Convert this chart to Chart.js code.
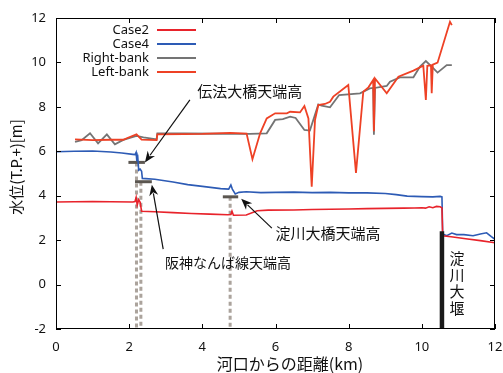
<!DOCTYPE html>
<html>
<head>
<meta charset="utf-8">
<script src="https://cdn.jsdelivr.net/npm/chart.js@4.4.1/dist/chart.umd.min.js"></script>
<style>
  html, body { margin: 0; padding: 0; background: #fff; }
  #wrap { width: 503px; height: 373px; }
</style>
</head>
<body>
<div id="wrap"><canvas id="chart"></canvas></div>
<script>
// 距離(km) と 水位(m)
const case2Km = [0, 0.5, 1.0, 1.5, 2.1, 2.16, 2.19, 2.22, 2.26, 2.3, 2.34, 2.7, 3.2, 3.7, 4.2, 4.7, 4.78, 4.81, 4.85, 5.2, 5.5, 5.8, 6.5, 7.0, 7.5, 8.0, 8.5, 9.0, 9.5, 9.8, 10.0, 10.1, 10.2, 10.3, 10.4, 10.5, 10.55, 10.57, 10.8, 11.2, 11.6, 12];
const case2Wl = [3.72, 3.73, 3.74, 3.73, 3.72, 3.74, 3.92, 3.58, 3.82, 3.7, 3.3, 3.28, 3.24, 3.2, 3.17, 3.14, 3.15, 3.3, 3.12, 3.13, 3.32, 3.35, 3.36, 3.38, 3.39, 3.4, 3.42, 3.43, 3.44, 3.45, 3.46, 3.44, 3.5, 3.46, 3.52, 3.5, 3.45, 2.2, 2.15, 2.06, 1.98, 1.88];

const case4Km = [0, 0.5, 1.0, 1.5, 1.8, 2.1, 2.16, 2.19, 2.21, 2.23, 2.26, 2.3, 2.34, 2.36, 2.7, 3.2, 3.6, 4.0, 4.5, 4.72, 4.78, 4.82, 4.9, 5.0, 5.2, 5.6, 6.0, 6.5, 7.0, 7.5, 8.0, 8.5, 9.0, 9.3, 9.6, 10.0, 10.3, 10.5, 10.55, 10.57, 10.68, 10.82, 10.95, 11.15, 11.4, 11.6, 11.77, 11.9, 12];
const case4Wl = [5.98, 6.0, 6.01, 5.97, 5.92, 5.86, 5.85, 5.95, 5.55, 5.85, 5.15, 5.2, 5.1, 4.78, 4.74, 4.62, 4.5, 4.42, 4.32, 4.3, 4.48, 4.3, 4.08, 4.15, 4.18, 4.14, 4.15, 4.16, 4.14, 4.15, 4.13, 4.13, 4.1, 4.05, 3.98, 3.96, 3.95, 3.97, 3.95, 2.28, 2.2, 2.32, 2.25, 2.25, 2.2, 2.28, 2.33, 2.16, 2.04];

const rightKm = [0.52, 0.7, 0.93, 1.15, 1.39, 1.61, 1.84, 2.2, 2.39, 2.75, 2.77, 3.5, 4.5, 5.3, 5.76, 5.99, 6.2, 6.4, 6.55, 6.79, 6.94, 7.17, 7.26, 7.49, 7.74, 8.31, 8.58, 8.67, 8.69, 8.72, 9.04, 9.13, 9.4, 9.77, 9.95, 10.11, 10.27, 10.43, 10.68, 10.82];
const rightWl = [6.42, 6.5, 6.81, 6.36, 6.76, 6.31, 6.51, 6.69, 6.63, 6.54, 6.81, 6.8, 6.79, 6.78, 6.81, 7.41, 7.45, 7.56, 7.5, 6.96, 6.93, 8.11, 8.05, 7.98, 8.53, 8.61, 8.83, 8.85, 6.75, 8.85, 8.94, 9.13, 9.33, 9.33, 9.81, 10.06, 9.81, 9.54, 9.88, 9.88];

const leftKm = [0.52, 1.0, 1.5, 1.84, 1.95, 2.2, 2.34, 2.75, 2.77, 3.5, 4.0, 4.76, 5.21, 5.37, 5.58, 5.76, 5.99, 6.31, 6.40, 6.67, 6.79, 6.90, 6.99, 7.08, 7.17, 7.35, 7.49, 7.58, 7.99, 8.20, 8.40, 8.54, 8.67, 8.69, 8.72, 9.04, 9.36, 9.77, 10.04, 10.11, 10.15, 10.25, 10.27, 10.30, 10.43, 10.77, 10.82];
const leftWl = [6.54, 6.5, 6.52, 6.52, 6.6, 6.76, 6.52, 6.5, 6.76, 6.77, 6.78, 6.83, 6.8, 5.64, 6.81, 7.48, 7.71, 7.71, 7.78, 7.75, 8.04, 7.48, 4.40, 7.41, 8.08, 8.13, 8.23, 8.46, 8.98, 5.03, 8.68, 8.88, 9.21, 6.9, 9.28, 8.61, 9.36, 9.63, 9.85, 8.31, 9.85, 9.87, 8.61, 9.9, 9.99, 11.83, 11.68];

// 橋梁の天端高
const bridgeNames = ['伝法大橋天端高', '阪神なんば線天端高', '淀川大橋天端高'];
const deckFrom = [1.98, 2.16, 4.56];
const deckTo = [2.43, 2.62, 4.98];
const deckTop = [5.5, 4.63, 3.95];
const pierKm = [2.2, 2.32, 4.76];

// 淀川大堰
const weirKm = 10.55;
const weirTop = 2.4;
const weirName = '淀川大堰';

const xTicks = [0, 2, 4, 6, 8, 10, 12];
const yTicks = [-2, 0, 2, 4, 6, 8, 10, 12];

const pts = (xs, ys) => xs.map((x, i) => ({ x, y: ys[i] }));

const datasets = [
  { label: 'Case2', data: pts(case2Km, case2Wl), borderColor: '#e8232b', borderWidth: 1.6, order: 1 },
  { label: 'Case4', data: pts(case4Km, case4Wl), borderColor: '#2d5bb5', borderWidth: 1.6, order: 1 },
  { label: 'Right-bank', data: pts(rightKm, rightWl), borderColor: '#747474', borderWidth: 1.8, order: 2 },
  { label: 'Left-bank', data: pts(leftKm, leftWl), borderColor: '#ee4125', borderWidth: 1.8, order: 1 },
];

// 橋脚の点線と天端のバー
for (let i = 0; i < bridgeNames.length; i++) {
  datasets.push({
    label: 'pier' + i,
    data: [{ x: pierKm[i], y: deckTop[i] }, { x: pierKm[i], y: -2 }],
    borderColor: '#aba39c', borderWidth: 3, borderDash: [4, 3], order: 10,
  });
  datasets.push({
    label: 'deck' + i,
    data: [{ x: deckFrom[i], y: deckTop[i] }, { x: deckTo[i], y: deckTop[i] }],
    borderColor: '#5b5650', borderWidth: 3, order: 5,
  });
}
datasets.push({
  label: 'weir',
  data: [{ x: weirKm, y: -2 }, { x: weirKm, y: weirTop }],
  borderColor: '#1a1a1a', borderWidth: 4.5, order: 0,
});

// 注記(テキスト位置と矢印の始点はデータ座標)
const noteTextKm = [3.86, 2.98, 6.0];
const noteTextWl = [8.72, 0.98, 2.31];
const noteTailKm = [3.66, 2.93, 5.9];
const noteTailWl = [8.31, 1.6, 2.54];

function arrow(ctx, x1, y1, x2, y2) {
  const a = Math.atan2(y2 - y1, x2 - x1);
  const len = 11, w = 4.5;
  ctx.beginPath();
  ctx.moveTo(x1, y1);
  ctx.lineTo(x2 - Math.cos(a) * len * 0.8, y2 - Math.sin(a) * len * 0.8);
  ctx.stroke();
  ctx.beginPath();
  ctx.moveTo(x2, y2);
  ctx.lineTo(x2 - Math.cos(a) * len - Math.sin(a) * w, y2 - Math.sin(a) * len + Math.cos(a) * w);
  ctx.lineTo(x2 - Math.cos(a) * len * 0.7, y2 - Math.sin(a) * len * 0.7);
  ctx.lineTo(x2 - Math.cos(a) * len + Math.sin(a) * w, y2 - Math.sin(a) * len - Math.cos(a) * w);
  ctx.closePath();
  ctx.fill();
}

const decorPlugin = {
  id: 'decor',
  afterDraw(chart) {
    const { ctx, chartArea: area, scales: { x, y } } = chart;
    ctx.save();

    // 枠線と内向きの目盛り
    ctx.strokeStyle = '#000';
    ctx.lineWidth = 1;
    ctx.strokeRect(area.left + 0.5, area.top + 0.5, area.right - area.left - 1, area.bottom - area.top - 1);
    ctx.beginPath();
    xTicks.forEach(v => {
      const px = Math.round(x.getPixelForValue(v)) + 0.5;
      ctx.moveTo(px, area.bottom); ctx.lineTo(px, area.bottom - 5);
      ctx.moveTo(px, area.top); ctx.lineTo(px, area.top + 5);
    });
    yTicks.forEach(v => {
      const py = Math.round(y.getPixelForValue(v)) + 0.5;
      ctx.moveTo(area.left, py); ctx.lineTo(area.left + 5, py);
      ctx.moveTo(area.right, py); ctx.lineTo(area.right - 5, py);
    });
    ctx.stroke();

    // 凡例
    ctx.font = '13px "Noto Sans", sans-serif';
    ctx.textAlign = 'right';
    ctx.textBaseline = 'middle';
    for (let i = 0; i < 4; i++) {
      const ds = chart.data.datasets[i];
      const ly = 30 + i * 14;
      ctx.fillStyle = '#111';
      ctx.fillText(ds.label, 149, ly);
      ctx.strokeStyle = ds.borderColor;
      ctx.lineWidth = 2;
      ctx.beginPath();
      ctx.moveTo(157, ly); ctx.lineTo(196, ly);
      ctx.stroke();
    }

    // 橋梁の注記と矢印
    ctx.fillStyle = '#111';
    ctx.strokeStyle = '#111';
    ctx.lineWidth = 1.2;
    ctx.textAlign = 'left';
    const tipDx = [0, 0, 3], tipDy = [0, 3, 2];
    for (let i = 0; i < bridgeNames.length; i++) {
      ctx.font = (i === 1 ? '14px' : '15px') + ' "Noto Sans CJK JP", sans-serif';
      ctx.fillText(bridgeNames[i], x.getPixelForValue(noteTextKm[i]), y.getPixelForValue(noteTextWl[i]));
      arrow(ctx,
        x.getPixelForValue(noteTailKm[i]), y.getPixelForValue(noteTailWl[i]),
        x.getPixelForValue(deckTo[i]) + tipDx[i], y.getPixelForValue(deckTop[i]) + tipDy[i]);
    }

    // 淀川大堰(縦書き)
    ctx.font = '15px "Noto Sans CJK JP", sans-serif';
    ctx.textAlign = 'center';
    const wx = x.getPixelForValue(weirKm) + 15;
    [...weirName].forEach((ch, i) => ctx.fillText(ch, wx, 258 + i * 16.8));

    // 軸タイトル
    ctx.font = '16px "Noto Sans CJK JP", sans-serif';
    ctx.fillText('河口からの距離(km)', 290, 364);
    ctx.translate(16, 167);
    ctx.rotate(-Math.PI / 2);
    ctx.font = '15px "Noto Sans CJK JP", sans-serif';
    ctx.fillText('水位(T.P.+)[m]', 0, 0);

    ctx.restore();
  },
};

new Chart(document.getElementById('chart'), {
  type: 'line',
  data: { datasets },
  options: {
    responsive: true,
    maintainAspectRatio: false,
    animation: false,
    layout: { padding: { top: 18, right: 8, left: 0, bottom: 0 } },
    elements: { point: { radius: 0 }, line: { tension: 0, fill: false } },
    plugins: { legend: { display: false }, tooltip: { enabled: false } },
    scales: {
      x: {
        type: 'linear', min: 0, max: 12,
        grid: { display: false, drawTicks: false },
        border: { display: false },
        afterFit: s => { s.height = 44; s.paddingLeft = 0; s.paddingRight = 0; },
        afterBuildTicks: s => { s.ticks = xTicks.map(v => ({ value: v })); },
        ticks: { padding: 10, color: '#111', font: { family: '"Noto Sans", sans-serif', size: 13 } },
      },
      y: {
        type: 'linear', min: -2, max: 12,
        grid: { display: false, drawTicks: false },
        border: { display: false },
        afterFit: s => { s.width = 56; s.paddingTop = 0; s.paddingBottom = 0; },
        afterBuildTicks: s => { s.ticks = yTicks.map(v => ({ value: v })); },
        ticks: { padding: 10, color: '#111', font: { family: '"Noto Sans", sans-serif', size: 13 } },
      },
    },
  },
  plugins: [decorPlugin],
});
</script>
</body>
</html>
